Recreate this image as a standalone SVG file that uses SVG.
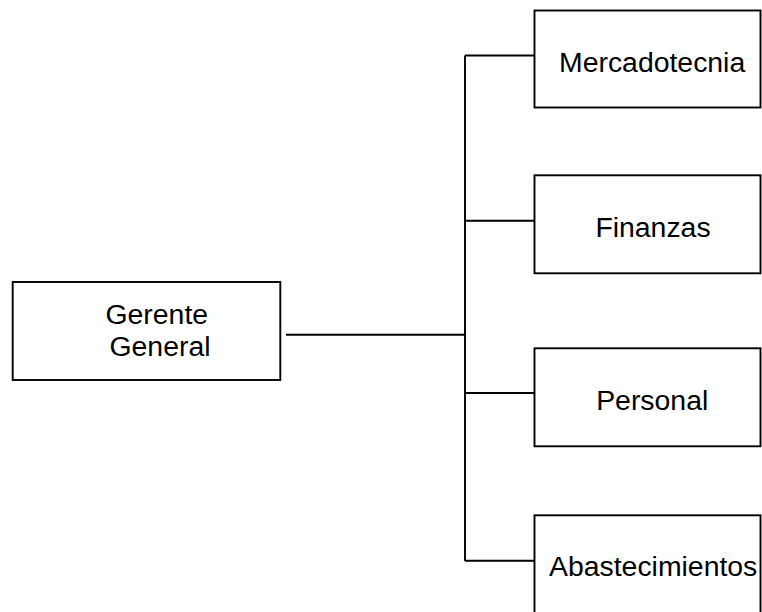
<svg xmlns="http://www.w3.org/2000/svg" width="762" height="612" viewBox="0 0 762 612">
<style>
.box{fill:#fff;stroke:#000;stroke-width:1.9}
.ln{fill:none;stroke:#000;stroke-width:1.9}
text{font-family:"Liberation Sans",Arial,sans-serif;font-size:28.4px;fill:#000}
</style>
<rect width="762" height="612" fill="#fff"/>
<g id="connectors">
<path class="ln" d="M286 334.7H465M465 55.5V561M465 55.5H536.7M465 220.7H536.7M465 393H536.7M465 560.7H536.7"/>
</g>
<g id="gerente">
<rect class="box" x="12.7" y="282" width="267.6" height="98"/>
<text x="105.5" y="324.3">Gerente</text>
<text x="109.5" y="356">General</text>
</g>
<g id="mercadotecnia">
<rect class="box" x="534.5" y="10.5" width="226" height="97"/>
<text x="559" y="72.3">Mercadotecnia</text>
</g>
<g id="finanzas">
<rect class="box" x="534.5" y="175.3" width="226" height="98"/>
<text x="595.4" y="237.3">Finanzas</text>
</g>
<g id="personal">
<rect class="box" x="534.5" y="348.3" width="226" height="98"/>
<text x="596.2" y="410">Personal</text>
</g>
<g id="abastecimientos">
<rect class="box" x="534.5" y="515.3" width="226" height="98"/>
<text x="549" y="576">Abastecimientos</text>
</g>
</svg>
